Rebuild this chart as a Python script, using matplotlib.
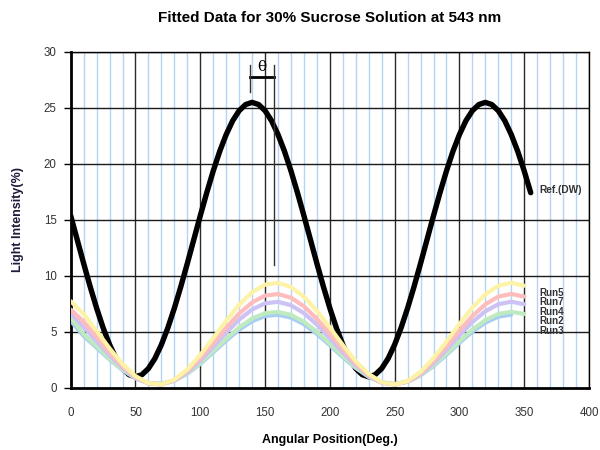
import matplotlib
matplotlib.use("Agg")
import matplotlib.pyplot as plt
import numpy as np

plt.rcParams['font.family'] = ['Liberation Sans', 'DejaVu Sans']

# ---------------- data ----------------
ref_angles = list(range(0, 360, 5))
ref_values = [15.38, 13.25, 11.12, 9.06, 7.13, 5.38, 3.87, 2.64, 1.74, 1.19,
              1.00, 1.19, 1.74, 2.64, 3.87, 5.38, 7.13, 9.06, 11.12, 13.25,
              15.38, 17.44, 19.38, 21.13, 22.63, 23.86, 24.76, 25.31, 25.50, 25.31,
              24.76, 23.86, 22.63, 21.13, 19.38, 17.44, 15.38, 13.25, 11.12, 9.06,
              7.13, 5.38, 3.87, 2.64, 1.74, 1.19, 1.00, 1.19, 1.74, 2.64,
              3.87, 5.38, 7.13, 9.06, 11.12, 13.25, 15.38, 17.44, 19.38, 21.13,
              22.63, 23.86, 24.76, 25.31, 25.50, 25.31, 24.76, 23.86, 22.63, 21.13,
              19.38, 17.44]

run_angles = list(range(0, 360, 10))
run5 = [7.75, 6.61, 5.09, 3.54, 2.14, 1.06, 0.43, 0.32, 0.75, 1.66,
        2.95, 4.46, 6.01, 7.43, 8.55, 9.23, 9.39, 9.02, 8.15, 6.89,
        5.40, 3.84, 2.40, 1.25, 0.52, 0.30, 0.62, 1.44, 2.67, 4.14,
        5.71, 7.18, 8.36, 9.13, 9.40, 9.13]
run7 = [7.00, 5.91, 4.56, 3.18, 1.94, 0.98, 0.42, 0.32, 0.70, 1.51,
        2.66, 4.01, 5.38, 6.65, 7.64, 8.25, 8.39, 8.06, 7.29, 6.17,
        4.84, 3.45, 2.17, 1.14, 0.49, 0.30, 0.59, 1.32, 2.41, 3.72,
        5.12, 6.42, 7.47, 8.16, 8.40, 8.16]
run4 = [6.70, 5.43, 4.19, 2.93, 1.80, 0.92, 0.41, 0.32, 0.67, 1.41,
        2.45, 3.69, 4.94, 6.10, 7.01, 7.56, 7.69, 7.39, 6.68, 5.66,
        4.44, 3.18, 2.01, 1.07, 0.48, 0.30, 0.56, 1.23, 2.22, 3.43,
        4.70, 5.89, 6.85, 7.48, 7.70, 7.48]
run2 = [6.30, 4.82, 3.74, 2.64, 1.65, 0.89, 0.44, 0.37, 0.67, 1.31,
        2.23, 3.30, 4.40, 5.41, 6.20, 6.68, 6.79, 6.53, 5.91, 5.02,
        3.96, 2.86, 1.84, 1.02, 0.51, 0.35, 0.58, 1.16, 2.03, 3.08,
        4.18, 5.22, 6.06, 6.61, 6.80, 6.61]
run3 = [6.00, 4.65, 3.61, 2.55, 1.60, 0.87, 0.44, 0.37, 0.66, 1.28,
        2.15, 3.19, 4.24, 5.21, 5.97, 6.43, 6.54, 6.29, 5.70, 4.84,
        3.82, 2.76, 1.78, 1.00, 0.50, 0.35, 0.57, 1.13, 1.96, 2.97,
        4.04, 5.03, 5.84, 6.37, 6.55]

run_labels = ["Run5", "Run7", "Run4", "Run2", "Run3"]
run_label_y = [8.5, 7.65, 6.8, 5.95, 5.1]
run_colors = ["#fdf3a6", "#ffbcbc", "#cdc2f4", "#bfeabf", "#a6cdf3"]

x_ticks = [0, 50, 100, 150, 200, 250, 300, 350, 400]
y_ticks = [0, 5, 10, 15, 20, 25, 30]

# theta annotation (data coordinates)
theta_left, theta_right, theta_bar_y = 138.7, 157.0, 27.8
theta_tick_top, theta_left_bottom, theta_right_bottom = 28.8, 26.4, 11.0

# ---------------- figure ----------------
fig = plt.figure(figsize=(6, 4.5), dpi=100)
ax = fig.add_axes([70.7 / 600, 62 / 450, (589 - 70.7) / 600, (388 - 52) / 450])
ax.set_xlim(0, 400)
ax.set_ylim(0, 30)

# grid
for x in range(10, 400, 10):
    if x % 50:
        ax.axvline(x, color="#b3d5f3", lw=1.0, zorder=0)
for x in x_ticks[1:]:
    ax.axvline(x, color="#2a2a2a", lw=1.0, zorder=0.5)
for y in y_ticks[1:]:
    ax.axhline(y, color="#1a1a1a", lw=1.0, zorder=0.5)

# reference
ax.plot(ref_angles, ref_values, color="black", lw=3.9, zorder=2,
        solid_capstyle="round", solid_joinstyle="round")

# runs (drawn over reference)
runs = [run5, run7, run4, run2, run3]
for vals, col in reversed(list(zip(runs, run_colors))):
    ax.plot(run_angles[:len(vals)], vals, color=col, lw=3.0, zorder=3,
            solid_capstyle="round")

# labels at right
ax.text(362, 17.7, "Ref.(DW)", fontsize=7.3, fontweight="bold", color="#333333",
        va="center", ha="left", zorder=5)
for lab, yy in zip(run_labels, run_label_y):
    ax.text(362, yy, lab, fontsize=7.0, fontweight="bold", color="#333333",
            va="center", ha="left", zorder=5)

# theta annotation
ax.plot([theta_left, theta_right], [theta_bar_y, theta_bar_y], color="black", lw=2.0, zorder=4)
ax.plot([theta_left, theta_left], [theta_left_bottom, theta_tick_top], color="#333333", lw=1.0, zorder=4)
ax.plot([theta_right, theta_right], [theta_right_bottom, theta_tick_top], color="#333333", lw=1.0, zorder=4)
ax.text((theta_left + theta_right) / 2, 28.0, "θ", fontsize=11, family="DejaVu Serif",
        ha="center", va="bottom", zorder=5)

# spines / ticks
for s in ["top", "right"]:
    ax.spines[s].set_linewidth(1.0)
for s in ["left", "bottom"]:
    ax.spines[s].set_linewidth(2.0)
ax.set_xticks(x_ticks)
ax.set_yticks(y_ticks)
ax.tick_params(axis="x", length=0, pad=14, labelsize=8.3, labelcolor="#333333")
ax.tick_params(axis="y", length=5, width=1, pad=5, labelsize=8.3, labelcolor="#333333")

fig.text(330 / 600, 1 - 440 / 450, "Angular Position(Deg.)", fontsize=9, fontweight="bold",
         ha="center", va="center")
fig.text(18 / 600, 1 - 220 / 450, "Light Intensity(%)", fontsize=9, fontweight="bold",
         color="#1c1c3c", ha="center", va="center", rotation=90)
fig.text(330 / 600, 1 - 18 / 450, "Fitted Data for 30% Sucrose Solution at 543 nm",
         fontsize=11, fontweight="bold", ha="center", va="center")

fig.savefig("out.png", dpi=100)
